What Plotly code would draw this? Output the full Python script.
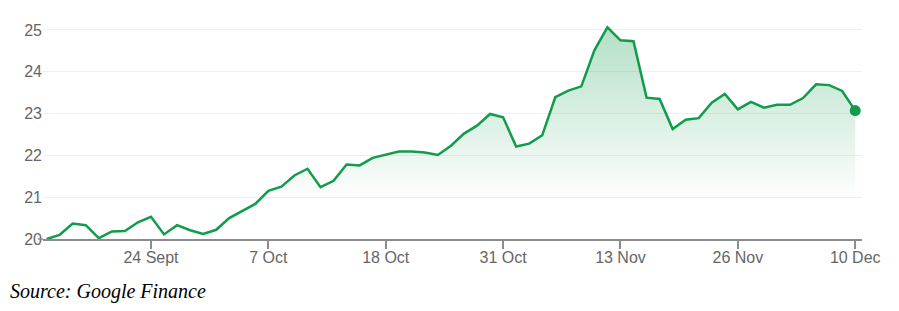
import plotly.graph_objects as go

# Trading days (2024) shown in the chart
dates = [
    "2024-09-12", "2024-09-13", "2024-09-16", "2024-09-17", "2024-09-18", "2024-09-19",
    "2024-09-20", "2024-09-23", "2024-09-24", "2024-09-25", "2024-09-26", "2024-09-27",
    "2024-09-30", "2024-10-01", "2024-10-02", "2024-10-03", "2024-10-04", "2024-10-07",
    "2024-10-08", "2024-10-09", "2024-10-10", "2024-10-11", "2024-10-14", "2024-10-15",
    "2024-10-16", "2024-10-17", "2024-10-18", "2024-10-21", "2024-10-22", "2024-10-23",
    "2024-10-24", "2024-10-25", "2024-10-28", "2024-10-29", "2024-10-30", "2024-10-31",
    "2024-11-01", "2024-11-04", "2024-11-05", "2024-11-06", "2024-11-07", "2024-11-08",
    "2024-11-11", "2024-11-12", "2024-11-13", "2024-11-14", "2024-11-15", "2024-11-18",
    "2024-11-19", "2024-11-20", "2024-11-21", "2024-11-22", "2024-11-25", "2024-11-26",
    "2024-11-27", "2024-11-29", "2024-12-02", "2024-12-03", "2024-12-04", "2024-12-05",
    "2024-12-06", "2024-12-09", "2024-12-10",
]

prices = [
    20.00, 20.10, 20.37, 20.33, 20.02, 20.18, 20.19, 20.40, 20.53, 20.11,
    20.33, 20.21, 20.12, 20.22, 20.50, 20.67, 20.84, 21.15, 21.25, 21.52,
    21.68, 21.24, 21.39, 21.78, 21.76, 21.94, 22.02, 22.09, 22.09, 22.07,
    22.01, 22.23, 22.52, 22.71, 22.99, 22.91, 22.21, 22.28, 22.48, 23.39,
    23.55, 23.65, 24.51, 25.06, 24.75, 24.73, 23.38, 23.35, 22.63, 22.85,
    22.89, 23.26, 23.47, 23.10, 23.28, 23.14, 23.21, 23.21, 23.37, 23.70,
    23.68, 23.54, 23.07,
]

tick_dates = ["2024-09-24", "2024-10-07", "2024-10-18", "2024-10-31",
              "2024-11-13", "2024-11-26", "2024-12-10"]
tick_labels = ["24 Sept", "7 Oct", "18 Oct", "31 Oct", "13 Nov", "26 Nov", "10 Dec"]

y_ticks = [20, 21, 22, 23, 24, 25]

GREEN = "#119c4b"
AXIS = "#8c8c8c"
LABEL = "#666666"

fig = go.Figure()

fig.add_trace(go.Scatter(
    x=dates, y=prices,
    mode="lines",
    line=dict(color=GREEN, width=2.5),
    fill="tozeroy",
    fillgradient=dict(
        type="vertical",
        start=20.9, stop=25.1,
        colorscale=[[0, "rgba(17,156,75,0)"], [1, "rgba(17,156,75,0.32)"]],
    ),
    hoverinfo="skip",
    showlegend=False,
))

fig.add_trace(go.Scatter(
    x=[dates[-1]], y=[prices[-1]],
    mode="markers",
    marker=dict(color=GREEN, size=11),
    hoverinfo="skip",
    showlegend=False,
))

fig.update_layout(
    width=899, height=311,
    margin=dict(l=43, r=37, t=9, b=72),
    paper_bgcolor="white",
    plot_bgcolor="white",
    font=dict(family="Arial, Liberation Sans, sans-serif", size=16, color=LABEL),
    xaxis=dict(
        type="category",
        range=[-0.28, 62.52],
        tickmode="array",
        tickvals=tick_dates,
        ticktext=tick_labels,
        showgrid=False,
        showline=True, linecolor=AXIS, linewidth=1.5,
        ticks="outside", ticklen=8, tickcolor=AXIS, tickwidth=1.5,
        tickfont=dict(size=16, color=LABEL),
        ticklabelstandoff=-5,
        zeroline=False,
    ),
    yaxis=dict(
        range=[20, 25.5],
        tickmode="array",
        tickvals=y_ticks,
        showgrid=True, gridcolor="#efefef", gridwidth=1,
        zeroline=False,
        showline=False,
        ticks="",
        tickfont=dict(size=16, color=LABEL),
    ),
    shapes=[dict(
        type="line", xref="paper", yref="paper",
        x0=-0.0062, x1=0, y0=0, y1=0,
        line=dict(color=AXIS, width=1.5),
    )],
    annotations=[dict(
        text="<i>Source: Google Finance</i>",
        xref="paper", yref="paper",
        x=-0.0427, y=-0.23,
        xanchor="left", yanchor="middle",
        showarrow=False,
        font=dict(family="Liberation Serif, Times New Roman, serif", size=20, color="black"),
    )],
)

fig.write_html("out.html")
